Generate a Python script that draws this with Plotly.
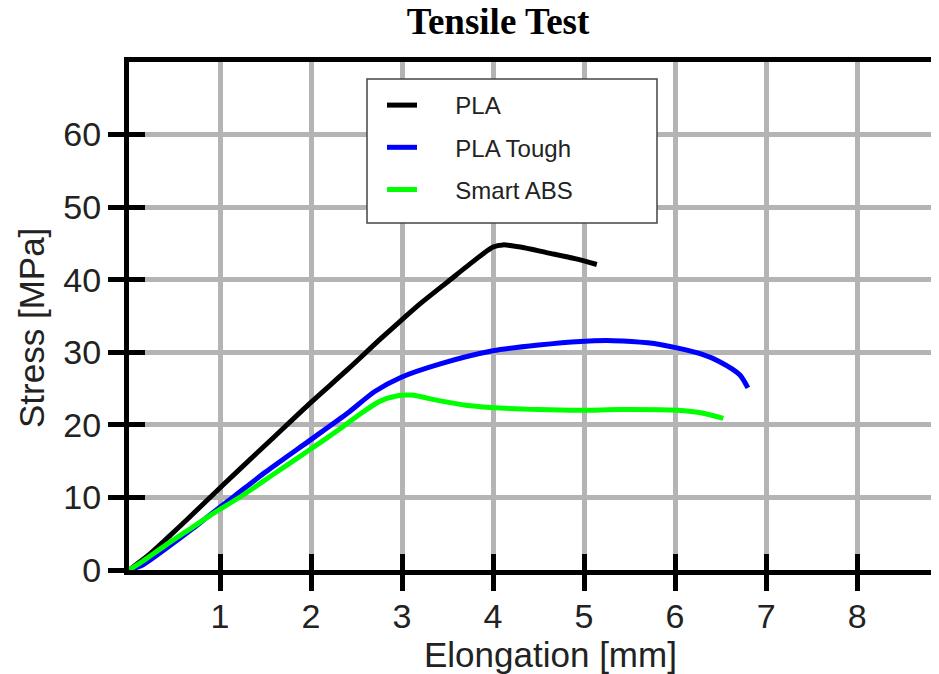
import plotly.graph_objects as go

# ---- data ----
pla_x = [0, 0.2, 0.42, 0.65, 0.89, 1.2, 1.6, 1.99, 2.4, 2.76, 3.0, 3.2, 3.49, 3.8, 4.0, 4.11, 4.3, 4.6, 4.9, 5.14]
pla_y = [0, 1.9, 4.4, 7.1, 10.0, 13.7, 18.4, 23.0, 27.6, 31.8, 34.5, 36.7, 39.6, 42.7, 44.5, 44.8, 44.5, 43.7, 42.9, 42.1]

tough_x = [0, 0.15, 0.4, 0.7, 0.89, 1.14, 1.5, 1.99, 2.4, 2.7, 2.98, 3.42, 4.0, 4.5, 4.96, 5.32, 5.7, 6.02, 6.3, 6.49, 6.71, 6.80]
tough_y = [0, 0.7, 2.9, 5.7, 7.6, 10.0, 13.5, 17.9, 21.6, 24.6, 26.5, 28.4, 30.2, 31.0, 31.5, 31.6, 31.3, 30.6, 29.7, 28.7, 26.9, 25.1]

abs_x = [0, 0.15, 0.4, 0.7, 0.89, 1.25, 1.6, 1.99, 2.3, 2.54, 2.75, 2.95, 3.1, 3.42, 3.7, 3.97, 4.5, 4.96, 5.4, 6.02, 6.31, 6.53]
abs_y = [0, 1.2, 3.4, 5.9, 7.5, 10.3, 13.3, 16.6, 19.3, 21.5, 23.2, 24.0, 24.1, 23.3, 22.7, 22.4, 22.1, 22.0, 22.1, 22.0, 21.6, 20.9]

series_names = ["PLA", "PLA Tough", "Smart ABS"]
series_colors = ["#000000", "#0000ff", "#00ff00"]

x_ticks = [1, 2, 3, 4, 5, 6, 7, 8]
y_ticks = [0, 10, 20, 30, 40, 50, 60]

title_text = "Tensile Test"
x_title = "Elongation [mm]"
y_title = "Stress [MPa]"

# page body has an 8px margin: figure is drawn 8px in from the top-left
OFF = 8
W, H = 939 - OFF, 674 - OFF
L, T, B = 129 - OFF, 62 - OFF, 674 - 570
PW, PH = 939 - 129, 570 - 62

def px_x(p):
    return (p - 129) / PW

def px_y(p):
    return (570 - p) / PH

# ---- figure ----
fig = go.Figure()
for xs, ys, nm, col in zip([pla_x, tough_x, abs_x], [pla_y, tough_y, abs_y], series_names, series_colors):
    fig.add_trace(go.Scatter(x=xs, y=ys, name="\u00a0" * 5 + nm, mode="lines",
                             line=dict(color=col, width=5, shape="spline", smoothing=0.7),
                             legendgroup=nm))

# empty trace to register the overlay axes (for ticks crossing the axis line)
fig.add_trace(go.Scatter(x=[], y=[], xaxis="x2", yaxis="y2", showlegend=False, hoverinfo="skip"))

tick_font = dict(family="Liberation Sans, Arial, sans-serif", size=34, color="#222222")
grid_col = "#b4b4b4"

fig.update_layout(
    width=W, height=H,
    margin=dict(l=L, r=0, t=T, b=B),
    paper_bgcolor="white", plot_bgcolor="white",
    showlegend=True,
    title=dict(text=title_text, x=px_x(498), xref="paper", xanchor="center",
               y=1 - (21 - OFF) / H, yref="container", yanchor="middle",
               font=dict(family="Liberation Serif, Times New Roman, serif", size=37,
                         color="black", weight="bold")),
    xaxis=dict(range=[0, 8.9], tickvals=x_ticks, ticks="outside", ticklen=16, tickwidth=5,
               tickcolor="black", showline=True, linewidth=5, linecolor="black", mirror=True,
               showgrid=True, gridcolor=grid_col, gridwidth=5, zeroline=False,
               tickfont=tick_font, ticklabelstandoff=-4),
    yaxis=dict(range=[0, 70], tickvals=y_ticks, ticks="outside", ticklen=16, tickwidth=5,
               tickcolor="black", showline=True, linewidth=5, linecolor="black", mirror=False,
               showgrid=True, gridcolor=grid_col, gridwidth=5, zeroline=False,
               tickfont=tick_font, ticklabelstandoff=0),
    xaxis2=dict(overlaying="x", anchor="y", range=[0, 8.9], tickvals=x_ticks, ticks="inside",
                ticklen=16, tickwidth=5, tickcolor="black", showline=False, showgrid=False,
                zeroline=False, showticklabels=False),
    yaxis2=dict(overlaying="y", anchor="x", side="left", range=[0, 70], tickvals=y_ticks,
                ticks="inside", ticklen=16, tickwidth=5, tickcolor="black", showline=False,
                showgrid=False, zeroline=False, showticklabels=False),
    legend=dict(x=px_x(382), xanchor="left", y=px_y(83), yanchor="top",
                bgcolor="rgba(0,0,0,0)", borderwidth=0, tracegroupgap=8,
                font=dict(family="Liberation Sans, Arial, sans-serif", size=24, color="#222222")),
    shapes=[dict(type="rect", xref="paper", yref="paper",
                 x0=px_x(367), x1=px_x(657), y0=px_y(223), y1=px_y(79),
                 line=dict(color="#444444", width=1.5), fillcolor="white", layer="above")],
    annotations=[
        dict(text=x_title, xref="paper", yref="paper", x=px_x(550), y=px_y(654),
             xanchor="center", yanchor="middle", showarrow=False,
             font=dict(family="Liberation Sans, Arial, sans-serif", size=35, color="#222222")),
        dict(text=y_title, xref="paper", yref="paper", x=px_x(31), y=px_y(328),
             xanchor="center", yanchor="middle", showarrow=False, textangle=-90,
             font=dict(family="Liberation Sans, Arial, sans-serif", size=35, color="#222222")),
    ],
)

fig.write_html("out.html")
